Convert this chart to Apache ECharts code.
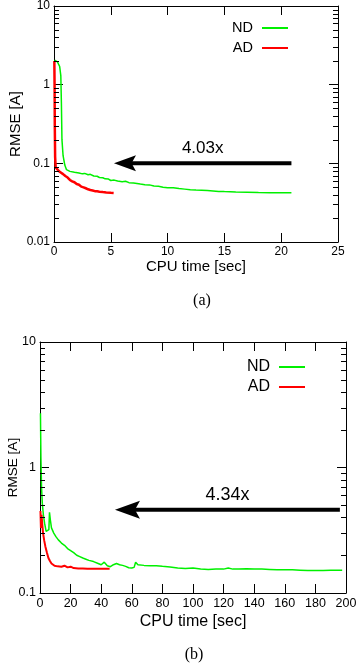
<!DOCTYPE html>
<html><head><meta charset="utf-8">
<script src="https://cdn.jsdelivr.net/npm/echarts@6/dist/echarts.min.js"></script>
<style>html,body{margin:0;padding:0;background:#fff}#c{width:359px;height:670px}</style>
</head><body><div id="c"></div>
<script>
// ---------- data: chart (a) ----------
const ndA = [[0.05,2.05],[0.3,1.95],[0.5,1.7],[0.6,1.3],[0.65,0.6],[0.7,0.2],[0.8,0.125],[0.95,0.095],[1.1,0.083],[1.4,0.079],[1.8,0.077],[2.2,0.0755],[2.5,0.0735],[2.7,0.0745],[3.0,0.0715],[3.2,0.0725],[3.5,0.069],[3.8,0.0685],[4.0,0.066],[4.3,0.0655],[4.5,0.0635],[4.8,0.0632],[5.0,0.0605],[5.3,0.0612],[5.6,0.0595],[6.0,0.0585],[6.3,0.0592],[6.6,0.0568],[7.0,0.0562],[7.3,0.0555],[7.6,0.0545],[8.0,0.0535],[8.4,0.0532],[8.8,0.0515],[9.2,0.051],[9.6,0.0498],[10,0.049],[10.5,0.0488],[11,0.0478],[11.5,0.047],[12,0.0462],[12.5,0.0458],[13,0.0456],[13.5,0.0452],[14,0.0446],[14.5,0.044],[15,0.0437],[16,0.0432],[17,0.0429],[18,0.0426],[19,0.0424],[20,0.0423],[20.9,0.0422]];
const adA = [[0.03,2.0],[0.05,1.0],[0.07,0.3],[0.1,0.12],[0.15,0.088],[0.3,0.083],[0.5,0.078],[0.8,0.073],[1.0,0.069],[1.2,0.066],[1.4,0.0615],[1.6,0.059],[1.8,0.0575],[2.0,0.0545],[2.2,0.0535],[2.4,0.0505],[2.6,0.0495],[2.8,0.0482],[3.0,0.0468],[3.2,0.0458],[3.4,0.0452],[3.6,0.0443],[3.8,0.0441],[4.0,0.0436],[4.3,0.0431],[4.6,0.0427],[5.0,0.0423],[5.25,0.0421]];
const xTicksA = {min:0, max:25, interval:5};
const yRangeA = {min:0.01, max:10};
const arrowA = [[20.9, 0.1, 5.28]];
const arrowLabelA = '4.03x';

// ---------- data: chart (b) ----------
const ndB = [[0.3,2.7],[0.6,1.2],[1.0,0.7],[1.5,0.52],[2.2,0.42],[3,0.36],[4,0.31],[5,0.30],[5.8,0.32],[6.2,0.44],[6.8,0.38],[7.5,0.33],[9,0.30],[10.5,0.28],[12,0.265],[14,0.25],[15,0.258],[16,0.24],[18,0.226],[20,0.218],[22,0.21],[24,0.2],[26,0.195],[28,0.19],[30,0.186],[32,0.182],[35,0.178],[38,0.172],[40,0.168],[42,0.176],[44,0.165],[46,0.162],[48,0.168],[50,0.172],[52,0.168],[54,0.166],[56,0.163],[58,0.159],[60,0.158],[61.5,0.16],[62.5,0.176],[64,0.168],[68,0.166],[72,0.165],[76,0.165],[80,0.163],[85,0.161],[90,0.158],[95,0.157],[100,0.158],[105,0.155],[110,0.154],[115,0.155],[120,0.155],[123,0.158],[126,0.155],[130,0.155],[135,0.156],[140,0.155],[145,0.155],[150,0.154],[155,0.153],[160,0.153],[165,0.153],[170,0.152],[175,0.151],[180,0.151],[185,0.151],[190,0.152],[195,0.152],[197.5,0.152]];
const adB = [[0.3,0.45],[0.6,0.33],[1.0,0.42],[1.5,0.35],[2.0,0.3],[2.8,0.26],[3.5,0.235],[4.5,0.21],[5.5,0.19],[6.5,0.18],[7.5,0.172],[8.5,0.175],[9.5,0.165],[10.5,0.17],[11.5,0.163],[12.5,0.168],[14,0.162],[16,0.165],[18,0.16],[20,0.162],[22,0.158],[25,0.157],[28,0.157],[31,0.156],[35,0.156],[38,0.156],[42,0.156],[45.5,0.156]];
const xTicksB = {min:0, max:200, interval:20};
const yRangeB = {min:0.1, max:10};
const arrowB = [[196, 0.46, 49]];
const arrowLabelB = '4.34x';

const minorTicks = [0.02,0.03,0.04,0.05,0.06,0.07,0.08,0.09,0.2,0.3,0.4,0.5,0.6,0.7,0.8,0.9,2,3,4,5,6,7,8,9];
const seriesNames = ['ND','AD'];
const xName = 'CPU time [sec]';
const yName = 'RMSE [A]';
const captions = ['(a)','(b)'];

const FONT = 'Liberation Sans, Arial, sans-serif';
const GREEN = '#00f000', RED = '#ff0000';

function xAxes(g, t, fs, nameFs, nameGap){
  return [
    {gridIndex:g, type:'value', min:t.min, max:t.max, interval:t.interval, position:'bottom',
     axisLine:{show:true, onZero:false, lineStyle:{color:'#000', width:1}},
     axisTick:{show:true, inside:true, length:9, lineStyle:{color:'#000'}},
     axisLabel:{show:true, margin:4, color:'#000', fontSize:fs, fontFamily:FONT},
     splitLine:{show:false},
     name:xName, nameLocation:'middle', nameGap:nameGap, nameMoveOverlap:false,
     nameTextStyle:{color:'#000', fontSize:nameFs, fontFamily:FONT}},
    {gridIndex:g, type:'value', min:t.min, max:t.max, interval:t.interval, position:'top',
     axisLine:{show:true, onZero:false, lineStyle:{color:'#000', width:1}},
     axisTick:{show:true, inside:true, length:9, lineStyle:{color:'#000'}},
     axisLabel:{show:false}, splitLine:{show:false}}
  ];
}
function yAxes(g, r, fs, nameFs, nameGap){
  const base = {gridIndex:g, type:'log', logBase:10, min:r.min, max:r.max, splitLine:{show:false}};
  return [
    Object.assign({}, base, {position:'left',
      axisLine:{show:true, onZero:false, lineStyle:{color:'#000', width:1}},
      axisTick:{show:true, inside:true, length:9, lineStyle:{color:'#000'}},
      axisLabel:{show:true, margin:4, color:'#000', fontSize:fs, fontFamily:FONT, formatter:v=>String(+v.toPrecision(3))},
      name:yName, nameLocation:'middle', nameGap:nameGap, nameMoveOverlap:false,
      nameTextStyle:{color:'#000', fontSize:nameFs, fontFamily:FONT}}),
    Object.assign({}, base, {position:'right',
      axisLine:{show:true, onZero:false, lineStyle:{color:'#000', width:1}},
      axisTick:{show:true, inside:true, length:9, lineStyle:{color:'#000'}},
      axisLabel:{show:false}})
  ];
}
// minor log ticks on both vertical frame sides, placed via the axis scale
function minorTickSeries(xi, yi, t, r){
  const data = minorTicks.filter(v => v > r.min && v < r.max).map(v => [t.min, v, t.max]);
  return {type:'custom', xAxisIndex:xi, yAxisIndex:yi, data:data, clip:false, silent:true, z:6,
    renderItem:(params, api)=>{
      const pL = api.coord([api.value(0), api.value(1)]);
      const pR = api.coord([api.value(2), api.value(1)]);
      const yl = Math.round(pL[1]) + 0.5;
      return {type:'group', children:[
        {type:'line', shape:{x1:pL[0], y1:yl, x2:pL[0]+5, y2:yl}, style:{stroke:'#000', lineWidth:1}},
        {type:'line', shape:{x1:pR[0]-5, y1:yl, x2:pR[0], y2:yl}, style:{stroke:'#000', lineWidth:1}}
      ]};
    }};
}
function arrowSeries(xi, yi, data, label, fs, headLen, headHalf){
  return {type:'custom', xAxisIndex:xi, yAxisIndex:yi, data:data, clip:false, silent:true, z:5,
    renderItem:(params, api)=>{
      const y = api.value(1);
      const p0 = api.coord([api.value(0), y]);
      const p1 = api.coord([api.value(2), y]);
      const tx = p1[0], ty = p1[1];
      return {type:'group', children:[
        {type:'line', shape:{x1:p0[0], y1:p0[1], x2:tx+headLen*0.7, y2:ty}, style:{stroke:'#000', lineWidth:4}},
        {type:'polygon', shape:{points:[[tx,ty],[tx+headLen,ty-headHalf],[tx+headLen*0.8,ty],[tx+headLen,ty+headHalf]]}, style:{fill:'#000'}},
        {type:'text', x:(p0[0]+p1[0])/2, y:ty-15, style:{text:label, align:'center', verticalAlign:'middle', fontSize:fs, fontFamily:FONT, fill:'#000'}}
      ]};
    }};
}

const chart = echarts.init(document.getElementById('c'), null, {renderer:'canvas'});
chart.setOption({
  animation:false,
  backgroundColor:'#fff',
  grid:[
    {left:54, top:6, width:284, height:236, containLabel:false, outerBoundsMode:'none'},
    {left:40, top:342, width:306, height:251, containLabel:false, outerBoundsMode:'none'}
  ],
  xAxis:[].concat(xAxes(0, xTicksA, 12, 15, 17), xAxes(1, xTicksB, 12.5, 16, 21)),
  yAxis:[].concat(yAxes(0, yRangeA, 12, 15, 31), yAxes(1, yRangeB, 12.5, 13.5, 20)),
  legend:[
    {data:seriesNames, orient:'vertical', right:66, top:13, align:'right', icon:'rect', itemWidth:26, itemHeight:2, itemGap:0,
     textStyle:{fontSize:14.5, lineHeight:20, fontFamily:FONT, color:'#000', padding:[0,4,0,0]}},
    {data:seriesNames, orient:'vertical', right:49, top:352, align:'right', icon:'rect', itemWidth:26, itemHeight:2, itemGap:0,
     textStyle:{fontSize:16, lineHeight:20, fontFamily:FONT, color:'#000', padding:[0,4,0,0]}}
  ],
  title:[
    {text:captions[0], left:197, top:288, textAlign:'center', textStyle:{fontFamily:'Liberation Serif, serif', fontWeight:'normal', fontSize:16, color:'#000'}},
    {text:captions[1], left:189, top:642, textAlign:'center', textStyle:{fontFamily:'Liberation Serif, serif', fontWeight:'normal', fontSize:16, color:'#000'}}
  ],
  series:[
    {name:seriesNames[0], type:'line', xAxisIndex:0, yAxisIndex:0, data:ndA, showSymbol:false, color:GREEN, lineStyle:{color:GREEN, width:1.5}, z:3},
    {name:seriesNames[1], type:'line', xAxisIndex:0, yAxisIndex:0, data:adA, showSymbol:false, color:RED, lineStyle:{color:RED, width:2.5}, z:4},
    {name:seriesNames[0], type:'line', xAxisIndex:2, yAxisIndex:2, data:ndB, showSymbol:false, color:GREEN, lineStyle:{color:GREEN, width:1.5}, z:3},
    {name:seriesNames[1], type:'line', xAxisIndex:2, yAxisIndex:2, data:adB, showSymbol:false, color:RED, lineStyle:{color:RED, width:2}, z:4},
    minorTickSeries(0, 0, xTicksA, yRangeA),
    minorTickSeries(2, 2, xTicksB, yRangeB),
    arrowSeries(0, 0, arrowA, arrowLabelA, 17, 22, 8),
    arrowSeries(2, 2, arrowB, arrowLabelB, 18, 25, 9)
  ]
});
</script>
</body></html>
